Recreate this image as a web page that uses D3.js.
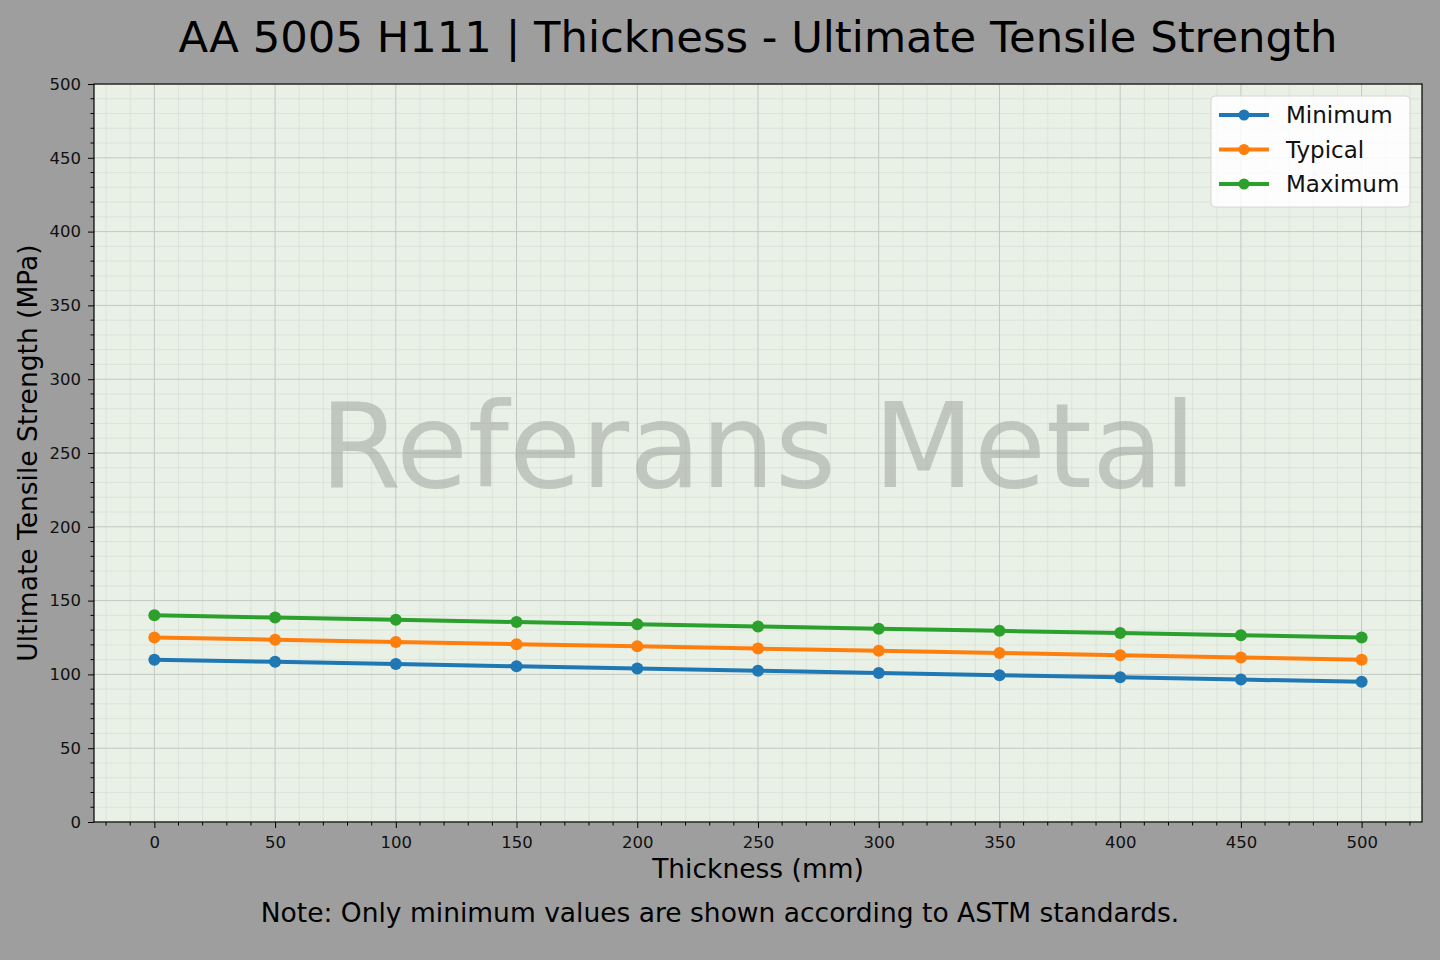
<!DOCTYPE html>
<html>
<head>
<meta charset="utf-8">
<script src="https://cdn.jsdelivr.net/npm/d3@7"></script>
<style>
  body { margin: 0; background: #9e9e9e; }
  text { font-family: "DejaVu Sans", sans-serif; }
</style>
</head>
<body>
<div id="plot"></div>
<script>
// data
const thickness = [0, 50, 100, 150, 200, 250, 300, 350, 400, 450, 500];
const minimum = [110, 108.5, 107, 105.5, 104, 102.5, 101, 99.5, 98, 96.5, 95];
const typical = [125, 123.5, 122, 120.5, 119, 117.5, 116, 114.5, 113, 111.5, 110];
const maximum = [140, 138.5, 137, 135.5, 134, 132.5, 131, 129.5, 128, 126.5, 125];
const seriesNames = ["Minimum", "Typical", "Maximum"];
const seriesColors = ["#1f77b4", "#ff7f0e", "#2ca02c"];
const xTicks = [0, 50, 100, 150, 200, 250, 300, 350, 400, 450, 500];
const yTicks = [0, 50, 100, 150, 200, 250, 300, 350, 400, 450, 500];

const w = 1440;
const h = 960;
const margin = {top: 84, right: 18, bottom: 138, left: 94};
const innerWidth = w - margin.left - margin.right;
const innerHeight = h - margin.top - margin.bottom;

const svg = d3.select("div#plot")
  .append("svg")
    .attr("width", w)
    .attr("height", h);

svg.append("rect")
  .attr("width", w)
  .attr("height", h)
  .attr("fill", "#9e9e9e");

const g = svg.append("g")
  .attr("transform", `translate(${margin.left}, ${margin.top})`);

const xScale = d3.scaleLinear().domain([-25, 525]).range([0, innerWidth]);
const yScale = d3.scaleLinear().domain([0, 500]).range([innerHeight, 0]);

g.append("rect")
  .attr("width", innerWidth)
  .attr("height", innerHeight)
  .attr("fill", "#e9f0e6");

const xMinor = d3.range(-20, 530, 10).filter(d => d % 50 !== 0);
const yMinor = d3.range(0, 501, 10).filter(d => d % 50 !== 0);

// minor grid
g.selectAll("line.vminor").data(xMinor).enter().append("line")
  .attr("x1", d => xScale(d)).attr("x2", d => xScale(d))
  .attr("y1", 0).attr("y2", innerHeight)
  .attr("stroke", "#c8cfc6").attr("stroke-opacity", 0.45).attr("stroke-width", 0.8);
g.selectAll("line.hminor").data(yMinor).enter().append("line")
  .attr("x1", 0).attr("x2", innerWidth)
  .attr("y1", d => yScale(d)).attr("y2", d => yScale(d))
  .attr("stroke", "#c8cfc6").attr("stroke-opacity", 0.45).attr("stroke-width", 0.8);

// major grid
g.selectAll("line.vmajor").data(xTicks).enter().append("line")
  .attr("x1", d => xScale(d)).attr("x2", d => xScale(d))
  .attr("y1", 0).attr("y2", innerHeight)
  .attr("stroke", "#c4c8c2").attr("stroke-width", 1);
g.selectAll("line.hmajor").data(yTicks).enter().append("line")
  .attr("x1", 0).attr("x2", innerWidth)
  .attr("y1", d => yScale(d)).attr("y2", d => yScale(d))
  .attr("stroke", "#c4c8c2").attr("stroke-width", 1);

// watermark
g.append("text")
  .attr("x", innerWidth / 2)
  .attr("y", yScale(250) - 7)
  .attr("text-anchor", "middle")
  .attr("dominant-baseline", "central")
  .attr("font-size", 117)
  .attr("fill", "#a0a49f")
  .attr("fill-opacity", 0.55)
  .text("Referans Metal");

// lines
const allSeries = [minimum, typical, maximum];
const line = d3.line().x((d, i) => xScale(thickness[i])).y(d => yScale(d));

allSeries.forEach((vals, k) => {
  g.append("path")
    .datum(vals)
    .attr("d", line)
    .attr("fill", "none")
    .attr("stroke", seriesColors[k])
    .attr("stroke-width", 4);
  g.selectAll(`circle.s${k}`)
    .data(vals)
    .enter()
    .append("circle")
      .attr("cx", (d, i) => xScale(thickness[i]))
      .attr("cy", d => yScale(d))
      .attr("r", 6)
      .attr("fill", seriesColors[k]);
});

// axes
const xAxis = d3.axisBottom(xScale).tickValues(xTicks).tickSize(6).tickPadding(8);
const yAxis = d3.axisLeft(yScale).tickValues(yTicks).tickSize(6).tickPadding(7);

const xg = g.append("g").attr("transform", `translate(0, ${innerHeight})`).call(xAxis);
const yg = g.append("g").call(yAxis);
[xg, yg].forEach(a => {
  a.select(".domain").remove();
  a.selectAll("line").attr("stroke", "#000");
  a.selectAll("text")
    .style("font-size", "16.5px")
    .style("font-family", "DejaVu Sans")
    .style("fill", "#111");
});

g.selectAll("line.xminortick").data(xMinor).enter().append("line")
  .attr("x1", d => xScale(d)).attr("x2", d => xScale(d))
  .attr("y1", innerHeight).attr("y2", innerHeight + 3.5)
  .attr("stroke", "#000");
g.selectAll("line.yminortick").data(yMinor).enter().append("line")
  .attr("x1", 0).attr("x2", -3.5)
  .attr("y1", d => yScale(d)).attr("y2", d => yScale(d))
  .attr("stroke", "#000");

// frame
g.append("rect")
  .attr("width", innerWidth)
  .attr("height", innerHeight)
  .attr("fill", "none")
  .attr("stroke", "#000")
  .attr("stroke-width", 1.2);

// legend
const lg = g.append("g").attr("transform", `translate(${innerWidth - 211}, 12)`);
lg.append("rect")
  .attr("width", 199)
  .attr("height", 111)
  .attr("rx", 4)
  .attr("fill", "#ffffff")
  .attr("fill-opacity", 0.85)
  .attr("stroke", "#d6d6d6");
seriesNames.forEach((name, k) => {
  const yy = 19 + k * 34.5;
  lg.append("line")
    .attr("x1", 8).attr("x2", 58)
    .attr("y1", yy).attr("y2", yy)
    .attr("stroke", seriesColors[k]).attr("stroke-width", 4);
  lg.append("circle").attr("cx", 33).attr("cy", yy).attr("r", 5.5).attr("fill", seriesColors[k]);
  lg.append("text")
    .attr("x", 75).attr("y", yy)
    .attr("dominant-baseline", "central")
    .attr("font-size", 23)
    .attr("fill", "#111")
    .text(name);
});

// titles
svg.append("text")
  .attr("x", 758).attr("y", 52)
  .attr("text-anchor", "middle")
  .attr("font-size", 43.3)
  .attr("fill", "#000")
  .text("AA 5005 H111 | Thickness - Ultimate Tensile Strength");

svg.append("text")
  .attr("x", 758).attr("y", 878)
  .attr("text-anchor", "middle")
  .attr("font-size", 26.5)
  .attr("fill", "#000")
  .text("Thickness (mm)");

svg.append("text")
  .attr("transform", "translate(37, 453) rotate(-90)")
  .attr("text-anchor", "middle")
  .attr("font-size", 26.5)
  .attr("fill", "#000")
  .text("Ultimate Tensile Strength (MPa)");

svg.append("text")
  .attr("x", 720).attr("y", 922)
  .attr("text-anchor", "middle")
  .attr("font-size", 26.5)
  .attr("fill", "#000")
  .text("Note: Only minimum values are shown according to ASTM standards.");
</script>
</body>
</html>
